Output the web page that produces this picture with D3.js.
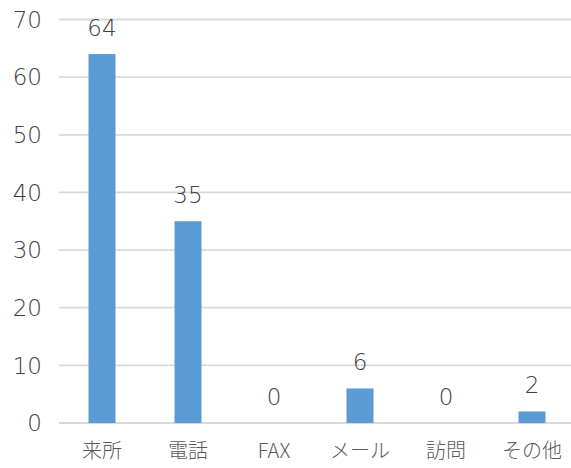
<!DOCTYPE html>
<html><head><meta charset="utf-8">
<script src="https://cdn.jsdelivr.net/npm/d3@7"></script>
<style>
html,body{margin:0;padding:0;background:#fff;}
text{font-family:"Noto Sans CJK JP","Noto Sans",sans-serif;fill:#595959;}
text.num{font-family:"DejaVu Sans","Noto Sans",sans-serif;font-weight:200;fill:#404040;}
</style></head>
<body><svg id="c" width="571" height="468"></svg>
<script>
const categories = ["来所","電話","FAX","メール","訪問","その他"];
const values = [64,35,0,6,0,2];
const yTicks = [0,10,20,30,40,50,60,70];

const svg = d3.select("#c");
const m = {left:59, right:-4, top:19.5, bottom:45};
const W = 571, H = 468;
const x = d3.scaleBand().domain(categories).range([m.left, W - m.right]).paddingInner(0.686).paddingOuter(0.343);
const y = d3.scaleLinear().domain([0,70]).range([H - m.bottom, m.top]);

// gridlines
svg.append("g").selectAll("line").data(yTicks).join("line")
  .attr("x1", m.left).attr("x2", W)
  .attr("y1", d=>y(d)).attr("y2", d=>y(d))
  .attr("stroke","#d9d9d9").attr("stroke-width",1.8);

// y tick labels
svg.append("g").selectAll("text").data(yTicks).join("text")
  .attr("class","num")
  .attr("x", 42).attr("y", d=>y(d)).attr("dy","0.36em")
  .attr("text-anchor","end").style("font-size","23px")
  .text(d=>d);

// bars
svg.append("g").selectAll("rect").data(values).join("rect")
  .attr("x",(d,i)=>x(categories[i])).attr("width",x.bandwidth())
  .attr("y",d=>y(d)).attr("height",d=>y(0)-y(d))
  .attr("fill","#5b9bd5");

// value labels
svg.append("g").selectAll("text").data(values).join("text")
  .attr("class","num")
  .attr("x",(d,i)=>x(categories[i])+x.bandwidth()/2)
  .attr("y",d=>y(d)-18)
  .attr("text-anchor","middle").style("font-size","23px")
  .text(d=>d);

// category labels
svg.append("g").selectAll("text").data(categories).join("text")
  .attr("x",d=>x(d)+x.bandwidth()/2).attr("y",458)
  .attr("text-anchor","middle").style("font-size","20px").style("font-weight","300")
  .text(d=>d);
</script></body></html>
